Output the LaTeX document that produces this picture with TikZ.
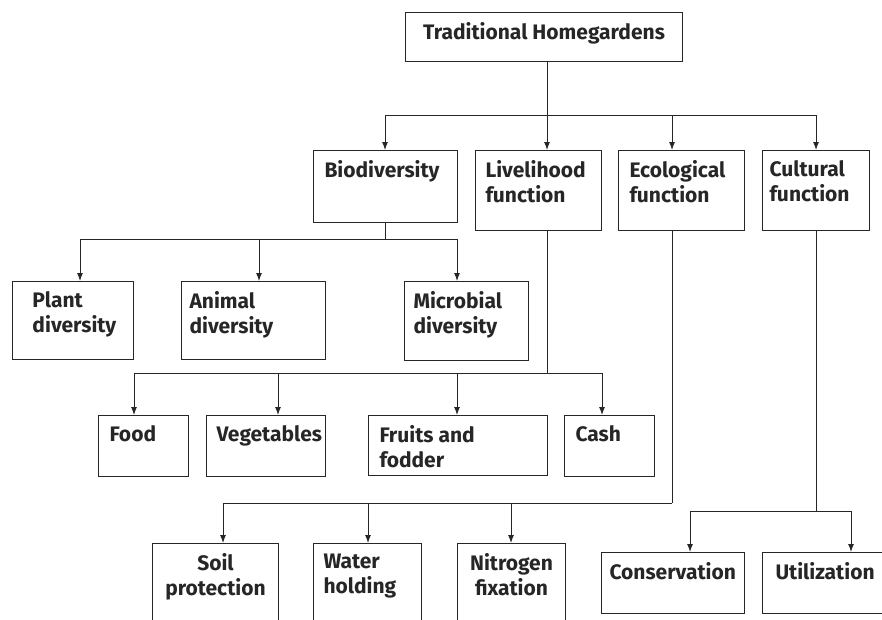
\documentclass[tikz,border=0pt]{standalone}
\usepackage{fontspec}
\setmainfont{Fira Sans}
\usetikzlibrary{arrows.meta}
\tikzset{
	cadre/.style={draw, anchor=north west, inner sep=0pt},
	fleche/.style={-{Latex[length=8pt,width=6pt]}}
}
% #1 alignement, #2 nom, #3 x, #4 y, #5 largeur, #6 hauteur, #7 texte
\newcommand{\Boite}[7][\leftskip=10pt]{\node[cadre] (#2) at (#3,#4) {\parbox[t][#6pt][t]{#5pt}{\raggedright#1\relax\vspace*{10pt}\bfseries\fontsize{21}{25}\selectfont #7}}}

\begin{document}
\begin{tikzpicture}[x=1pt,y=-1pt,line width=1pt,color=black!85]
\useasboundingbox (0,0) rectangle (882,619);
\clip (0,0) rectangle (882,619); % les boites du bas sont coupees

%Boites
\Boite[\centering]{home}{405}{12}{277}{49}{Traditional Homegardens};
\Boite[\leftskip=11pt]{bio}{313}{150}{144}{72}{Biodiversity};
\Boite{live}{475}{150}{126}{80}{Livelihood\\function};
\Boite[\leftskip=11pt]{eco}{618}{150}{126}{80}{Ecological\\function};
\Boite[\leftskip=7pt]{cult}{762}{150}{107}{80}{Cultural\\function};

\Boite[\leftskip=20pt]{plant}{12}{281}{121}{78}{Plant\\diversity};
\Boite[\leftskip=8pt]{animal}{181}{281}{144}{78}{Animal\\diversity};
\Boite[\leftskip=9pt]{micro}{404}{281}{124}{79}{Microbial\\diversity};

\Boite[\leftskip=11pt]{food}{98}{415}{90}{61}{Food};
\Boite{veg}{206}{415}{119}{61}{Vegetables};
\Boite[\leftskip=11pt]{fruit}{368}{415}{179}{60}{Fruits and\\fodder};
\Boite[\leftskip=11pt]{cash}{564}{415}{90}{61}{Cash};

\Boite[\centering]{soil}{152}{543}{126}{100}{Soil\\protection};
\Boite{water}{313}{543}{108}{100}{Water\\holding};
\Boite[\centering]{nitro}{457}{543}{108}{100}{Nitrogen\\fixation};
\Boite[\leftskip=8pt]{cons}{601}{552}{143}{61}{Conservation};
\Boite[\leftskip=13pt]{util}{762}{552}{125}{61}{Utilization};

%Niveau 1
\coordinate (s0) at (547,115);
\draw (home.south -| s0) -- (s0);
\foreach \x/\nom in {385/bio,547/live,672/eco,816/cult}{
	\coordinate (a\nom) at (\x,115);
	\draw[fleche] (a\nom) -- (a\nom |- \nom.north);
}
\draw (abio) -- (acult);

%Biodiversite
\foreach \x/\nom in {80/plant,259/animal,457/micro}{
	\coordinate (a\nom) at (\x,239);
	\draw[fleche] (a\nom) -- (a\nom |- \nom.north);
}
\draw (bio.south) -- (bio.south |- aplant);
\draw (aplant) -- (amicro);

%Fonction de subsistance
\coordinate (s2) at (547,373);
\draw (live.south -| s2) -- (s2);
\foreach \x/\nom in {134/food,278/veg,457/fruit,602/cash}{
	\coordinate (a\nom) at (\x,373);
	\draw[fleche] (a\nom) -- (a\nom |- \nom.north);
}
\draw (afood) -- (acash);

%Fonction ecologique
\coordinate (s3) at (672,503);
\draw (eco.south -| s3) -- (s3);
\foreach \x/\nom in {223/soil,368/water,511/nitro}{
	\coordinate (a\nom) at (\x,503);
	\draw[fleche] (a\nom) -- (a\nom |- \nom.north);
}
\draw (asoil) -- (s3);

%Fonction culturelle
\coordinate (s4) at (816,511);
\draw (cult.south -| s4) -- (s4);
\foreach \x/\nom in {690/cons,851/util}{
	\coordinate (a\nom) at (\x,511);
	\draw[fleche] (a\nom) -- (a\nom |- \nom.north);
}
\draw (acons) -- (autil);

\end{tikzpicture}
\end{document}
